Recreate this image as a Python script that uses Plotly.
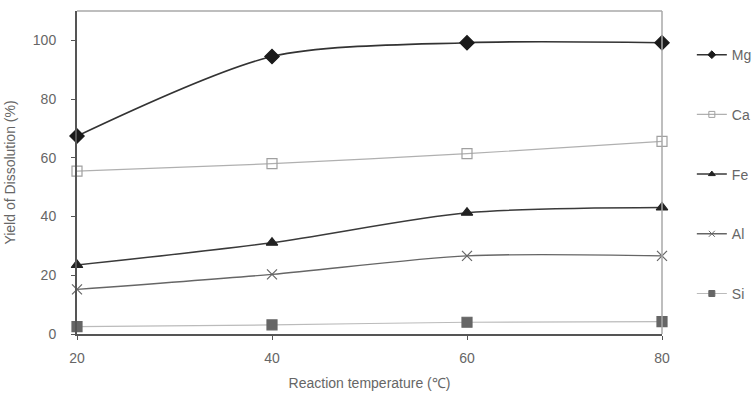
import plotly.graph_objects as go

temps = [20, 40, 60, 80]
mg = [67.4, 94.5, 99.2, 99.2]
ca = [55.5, 58.0, 61.4, 65.6]
fe = [23.5, 31.1, 41.3, 43.1]
al = [15.2, 20.3, 26.6, 26.6]
si = [2.5, 3.1, 4.0, 4.2]

series = [
    ("Mg", mg, "diamond", "#333333", "#1a1a1a", 11, 1.6),
    ("Ca", ca, "square-open", "#b0b0b0", "#a0a0a0", 10, 1.2),
    ("Fe", fe, "triangle-up", "#3a3a3a", "#222222", 10, 1.5),
    ("Al", al, "x-thin-open", "#666666", "#666666", 10, 1.4),
    ("Si", si, "square", "#bbbbbb", "#666666", 10, 1.2),
]

fig = go.Figure()
for name, vals, sym, lcol, mcol, msz, lw in series:
    fig.add_trace(go.Scatter(
        x=temps, y=vals, name=name, legendgroup=name, showlegend=False,
        mode="lines+markers",
        line=dict(color=lcol, width=lw, shape="spline", smoothing=0.8),
        marker=dict(symbol=sym, size=msz, color=mcol,
                    line=dict(color=mcol, width=1.2)),
        cliponaxis=False,
    ))
    # legend entry with smaller marker, as in the reference
    fig.add_trace(go.Scatter(
        x=[None], y=[None], name=name, legendgroup=name, showlegend=True,
        mode="lines+markers",
        line=dict(color=lcol, width=lw),
        marker=dict(symbol=sym, size=6, color=mcol,
                    line=dict(color=mcol, width=1)),
    ))

font = dict(family="Liberation Sans, Arial, sans-serif", size=14, color="#666666")
fig.update_layout(
    width=754, height=393,
    margin=dict(l=77, r=92, t=11, b=59, autoexpand=False),
    paper_bgcolor="white", plot_bgcolor="white",
    font=font,
    showlegend=True,
    legend=dict(x=1.051, xanchor="left", y=0.913, yanchor="top",
                tracegroupgap=38.5, itemwidth=30, font=font,
                bgcolor="rgba(0,0,0,0)"),
    xaxis=dict(range=[20, 80], tickvals=temps, ticktext=[str(t) for t in temps],
               automargin=False,
               showgrid=False, zeroline=False, showline=True, linecolor="#555555",
               linewidth=2, ticks="outside", ticklen=4,
               tickcolor="#555555", ticklabelstandoff=6,
               title=dict(text="Reaction temperature (℃)", standoff=13, font=font)),
    yaxis=dict(range=[0, 110], tickvals=[0, 20, 40, 60, 80, 100],
               automargin=False,
               showgrid=False, zeroline=False, showline=True, linecolor="#555555",
               linewidth=2, ticks="outside", ticklen=4, tickcolor="#555555",
               ticklabelstandoff=12,
               title=dict(text="Yield of Dissolution (%)", standoff=14, font=font)),
)
# light top/right frame
fig.add_shape(type="line", xref="paper", yref="paper", x0=0, x1=1, y0=1, y1=1,
              line=dict(color="#a8a8a8", width=1.5))
fig.add_shape(type="line", xref="paper", yref="paper", x0=1, x1=1, y0=0, y1=1,
              line=dict(color="#a8a8a8", width=1.5))

fig.write_html("out.html")
